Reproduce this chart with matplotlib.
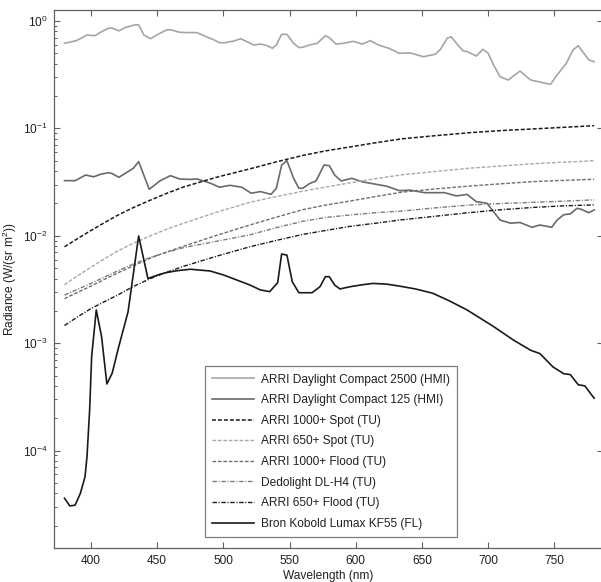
import numpy as np
import matplotlib
matplotlib.use("Agg")
import matplotlib.pyplot as plt
from matplotlib.ticker import LogLocator, FixedLocator, NullFormatter

plt.rcParams['font.family'] = ['Liberation Sans', 'DejaVu Sans']
plt.rcParams['mathtext.fontset'] = 'custom'
plt.rcParams['mathtext.rm'] = 'Liberation Sans'
plt.rcParams['mathtext.it'] = 'Liberation Sans'
plt.rcParams['axes.unicode_minus'] = False

# HMI daylight lamps
hmi2500_nm = [380, 389, 397, 403, 408, 413, 416, 421, 426, 433, 436, 440, 445, 450, 457, 460,
              467, 472, 480, 487, 492, 497, 501, 508, 513, 518, 523, 528, 533, 537, 540, 544,
              548, 553, 557, 560, 565, 571, 577, 580, 585, 591, 598, 605, 611, 617, 625, 633,
              641, 651, 660, 664, 669, 672, 676, 681, 684, 691, 696, 700, 704, 709, 715, 724,
              732, 738, 747, 752, 759, 764, 768, 776, 780]
hmi2500 = [0.62, 0.656, 0.74, 0.73, 0.795, 0.855, 0.86, 0.81, 0.87, 0.92, 0.92, 0.74, 0.684,
           0.745, 0.824, 0.83, 0.785, 0.78, 0.78, 0.714, 0.675, 0.628, 0.628, 0.651, 0.684,
           0.64, 0.598, 0.61, 0.59, 0.557, 0.598, 0.752, 0.752, 0.62, 0.565, 0.57, 0.598,
           0.62, 0.73, 0.70, 0.61, 0.62, 0.647, 0.61, 0.656, 0.598, 0.557, 0.50, 0.505,
           0.465, 0.49, 0.545, 0.69, 0.714, 0.62, 0.526, 0.52, 0.472, 0.545, 0.50, 0.39,
           0.303, 0.282, 0.342, 0.282, 0.272, 0.257, 0.314, 0.404, 0.537, 0.589, 0.434, 0.418]

hmi125_nm = [380, 388, 396, 402, 407, 413, 416, 421, 428, 432, 436, 444, 452, 460, 467, 475,
             480, 485, 491, 497, 505, 514, 521, 528, 536, 540, 544, 548, 553, 557, 560, 565,
             570, 576, 580, 584, 589, 597, 605, 623, 633, 641, 652, 667, 676, 684, 691, 699,
             704, 709, 717, 724, 733, 739, 748, 752, 757, 762, 767, 770, 776, 780]
hmi125 = [0.0326, 0.0326, 0.0368, 0.0354, 0.0373, 0.0387, 0.038, 0.035, 0.0396, 0.0425,
          0.049, 0.0271, 0.0324, 0.0363, 0.0338, 0.0335, 0.0338, 0.0324, 0.0306, 0.0283,
          0.0295, 0.0283, 0.0249, 0.0258, 0.0243, 0.0277, 0.0456, 0.050, 0.0343, 0.0277,
          0.0277, 0.0306, 0.0324, 0.0456, 0.045, 0.0368, 0.0324, 0.0343, 0.0318, 0.0290,
          0.0263, 0.0266, 0.0252, 0.0252, 0.0235, 0.0243, 0.0208, 0.0201, 0.0168, 0.0140,
          0.0131, 0.0133, 0.0120, 0.0126, 0.0120, 0.0140, 0.0157, 0.016, 0.018, 0.0177,
          0.0164, 0.0174]

# tungsten lamps
tu_nm = [380, 390, 400, 410, 420, 432, 445, 457, 470, 495, 520, 540, 560, 577, 595, 615,
         635, 660, 685, 710, 735, 757, 780]
spot1000 = [0.0079, 0.00944, 0.0112, 0.0132, 0.0155, 0.0183, 0.0215, 0.0248, 0.0285, 0.0351,
            0.042, 0.0488, 0.056, 0.0617, 0.067, 0.0735, 0.080, 0.0855, 0.091, 0.0955, 0.099,
            0.1023, 0.106]
spot650 = [0.0035, 0.00425, 0.0051, 0.00608, 0.0072, 0.00853, 0.0100, 0.0115, 0.0131, 0.0166,
           0.0205, 0.0232, 0.026, 0.0284, 0.031, 0.034, 0.037, 0.0397, 0.0425, 0.0447, 0.047,
           0.0484, 0.050]
flood1000 = [0.0026, 0.00298, 0.0034, 0.00392, 0.0045, 0.00526, 0.0062, 0.00705, 0.0080,
             0.0101, 0.0126, 0.0149, 0.0175, 0.0193, 0.021, 0.0232, 0.0255, 0.0273, 0.029,
             0.0305, 0.032, 0.0328, 0.0336]
dedo = [0.0028, 0.00318, 0.0036, 0.00412, 0.0047, 0.00547, 0.0063, 0.0070, 0.00776, 0.0089,
        0.0102, 0.0119, 0.01365, 0.0148, 0.0156, 0.0164, 0.0170, 0.0182, 0.0193, 0.020, 0.0205,
        0.021, 0.0216]
flood650 = [0.00146, 0.00176, 0.0021, 0.00243, 0.0028, 0.00337, 0.0040, 0.00457, 0.0052,
            0.00646, 0.0079, 0.00906, 0.0103, 0.0112, 0.0122, 0.0131, 0.0141, 0.0152, 0.0164,
            0.0175, 0.0184, 0.019, 0.0194]

# fluorescent
bron_nm = [380, 384, 388, 392, 395.5, 397, 399, 400.5, 404, 408, 412, 416, 421, 428, 436, 443,
           452, 457, 465, 475, 490, 500, 510, 520, 528, 535, 541, 544, 548, 552, 557, 567,
           573, 577, 580, 584, 588, 596, 605, 613, 623, 633, 645, 658, 670, 684, 704, 719,
           732, 739, 749, 757, 762, 768, 773, 780]
bron = [3.6e-5, 3.05e-5, 3.1e-5, 4.0e-5, 5.7e-5, 8.8e-5, 2.4e-4, 7.5e-4, 2.04e-3, 1.15e-3,
        4.17e-4, 5.25e-4, 9.3e-4, 1.96e-3, 9.96e-3, 4.0e-3, 4.38e-3, 4.54e-3, 4.73e-3, 4.88e-3,
        4.7e-3, 4.32e-3, 3.88e-3, 3.48e-3, 3.13e-3, 3.02e-3, 3.66e-3, 6.77e-3, 6.6e-3, 3.74e-3,
        2.95e-3, 2.95e-3, 3.36e-3, 4.16e-3, 4.16e-3, 3.48e-3, 3.2e-3, 3.36e-3, 3.5e-3, 3.6e-3,
        3.55e-3, 3.4e-3, 3.2e-3, 2.92e-3, 2.5e-3, 2.04e-3, 1.43e-3, 1.07e-3, 8.6e-4, 8.0e-4,
        6.0e-4, 5.2e-4, 5.1e-4, 4.1e-4, 4.0e-4, 3.07e-4]

labels = ['ARRI Daylight Compact 2500 (HMI)', 'ARRI Daylight Compact 125 (HMI)',
          'ARRI 1000+ Spot (TU)', 'ARRI 650+ Spot (TU)', 'ARRI 1000+ Flood (TU)',
          'Dedolight DL-H4 (TU)', 'ARRI 650+ Flood (TU)', 'Bron Kobold Lumax KF55 (FL)']

dash = (0, (2.6, 1.3))
dashdot = (0, (3.2, 1.2, 0.8, 1.2))

fig = plt.figure(figsize=(6.01, 5.82), dpi=100)
ax = fig.add_axes([54.3 / 601, 1 - 548.3 / 582, (603 - 54.3) / 601, (548.3 - 10) / 582])

ax.plot(hmi2500_nm, hmi2500, color='#a5a5a5', lw=1.2, ls='-', label=labels[0])
ax.plot(hmi125_nm, hmi125, color='#6a6a6a', lw=1.2, ls='-', label=labels[1])
ax.plot(tu_nm, spot1000, color='#1a1a1a', lw=1.1, ls=dash, label=labels[2])
ax.plot(tu_nm, spot650, color='#a8a8a8', lw=1.0, ls=dash, label=labels[3])
ax.plot(tu_nm, flood1000, color='#6e6e6e', lw=1.0, ls=dash, label=labels[4])
ax.plot(tu_nm, dedo, color='#7c7c7c', lw=1.0, ls=dashdot, label=labels[5])
ax.plot(tu_nm, flood650, color='#1a1a1a', lw=1.0, ls=dashdot, label=labels[6])
ax.plot(bron_nm, bron, color='#1a1a1a', lw=1.2, ls='-', label=labels[7])

ax.set_yscale('log')
ax.set_xlim(372.3, 786.7)
ax.set_ylim(1.23e-5, 1.266)
ax.xaxis.set_major_locator(FixedLocator([400, 450, 500, 550, 600, 650, 700, 750]))
ax.yaxis.set_major_locator(LogLocator(base=10, numticks=10))
ax.yaxis.set_minor_locator(LogLocator(base=10, subs=np.arange(2, 10), numticks=20))
ax.yaxis.set_minor_formatter(NullFormatter())

axis_col = '#606060'
for s in ax.spines.values():
    s.set_color(axis_col)
    s.set_linewidth(0.9)
ax.tick_params(which='both', direction='in', top=True, colors=axis_col,
               labelcolor='#202020', labelsize=8.6)
ax.tick_params(which='major', length=4.5, width=0.8, pad=5, right=True)
ax.tick_params(which='minor', length=2.5, width=0.7, right=False)

ax.set_xlabel('Wavelength (nm)', fontsize=8.6, color='#202020', labelpad=2)
ax.set_ylabel('Radiance (W/(sr m$^2$))', fontsize=8.6, color='#202020', labelpad=3)

leg = ax.legend(loc='lower left', bbox_to_anchor=(0.275, 0.021), borderaxespad=0,
                fontsize=8.6, handlelength=3.5, handletextpad=0.6, labelspacing=0.72,
                borderpad=0.6, fancybox=False, framealpha=1, edgecolor='#7f7f7f')
leg.get_frame().set_linewidth(0.9)
for t in leg.get_texts():
    t.set_color('#202020')

fig.savefig('out.png', dpi=100)
